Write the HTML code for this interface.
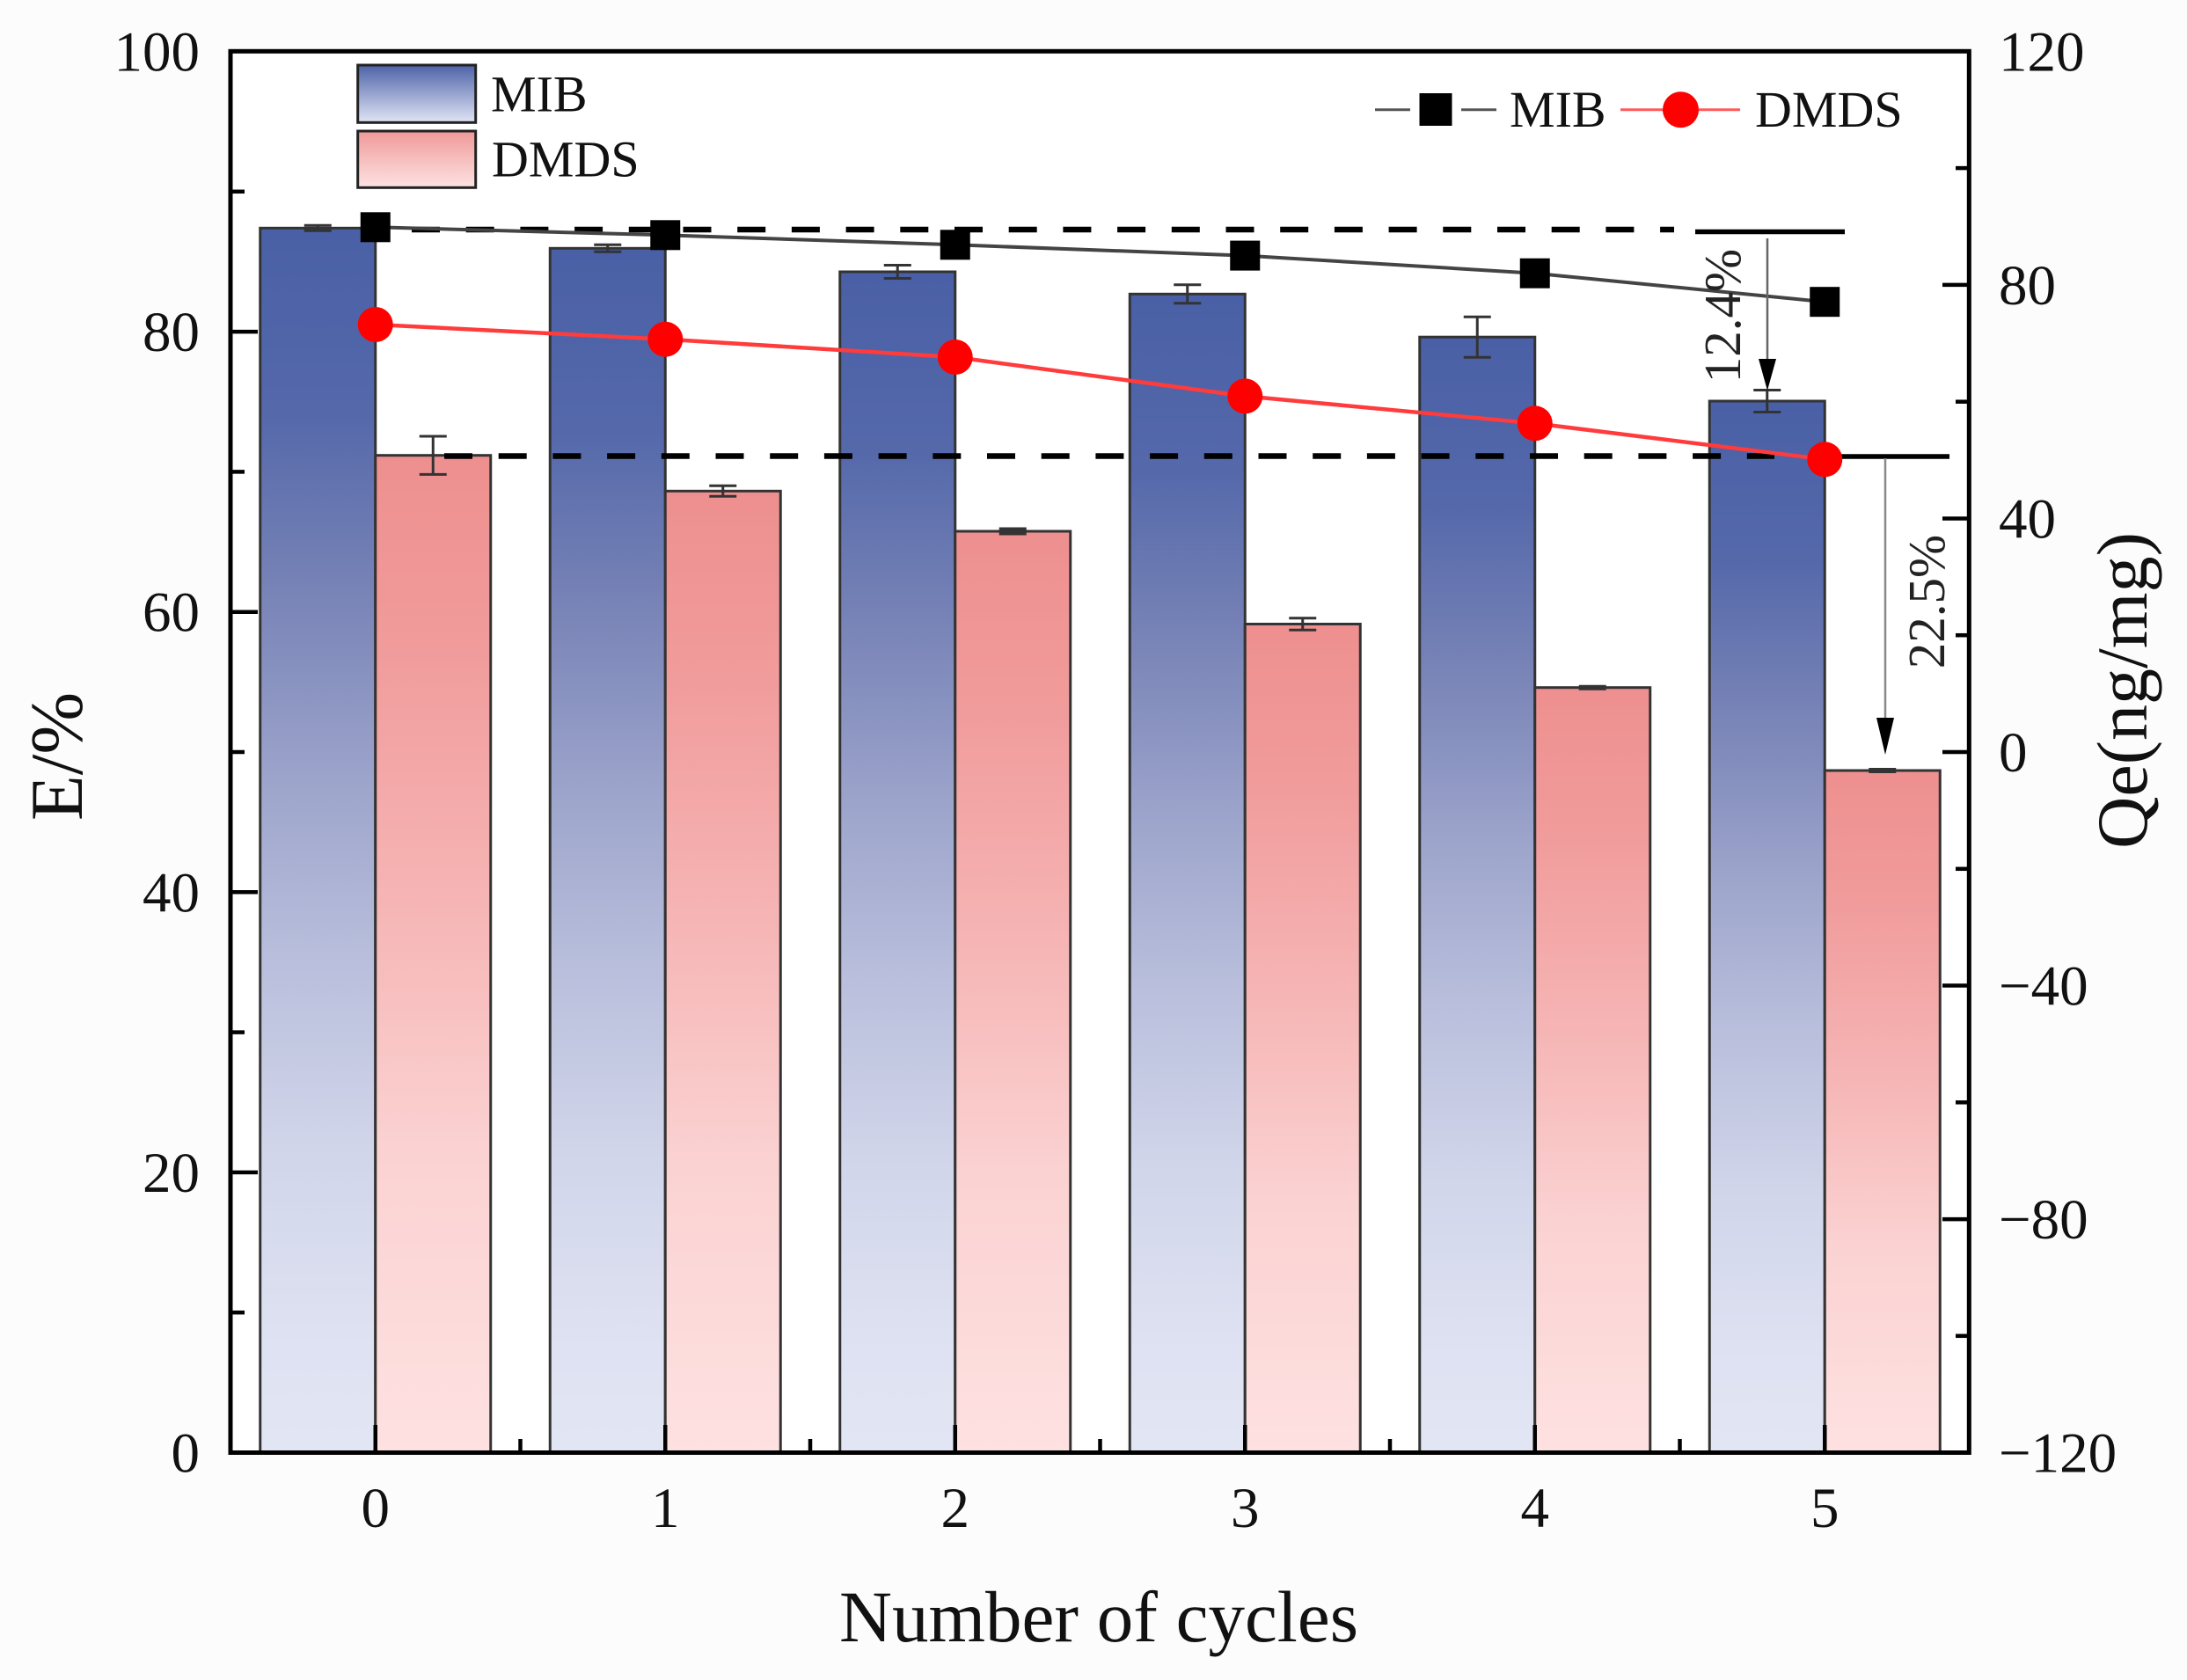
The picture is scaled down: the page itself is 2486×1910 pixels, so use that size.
<!DOCTYPE html>
<html>
<head>
<meta charset="utf-8">
<style>
html,body{margin:0;padding:0;background:#fcfcfc;}
svg{display:block;}
text{font-family:"Liberation Serif","Times New Roman",serif;fill:#111;}
</style>
</head>
<body>
<svg width="2486" height="1910" viewBox="0 0 2486 1910" xmlns="http://www.w3.org/2000/svg">
<defs>
<linearGradient id="gB" x1="0" y1="0" x2="0" y2="1">
<stop offset="0" stop-color="#4a60a6"/>
<stop offset="0.15" stop-color="#5468aa"/>
<stop offset="0.3" stop-color="#7984b7"/>
<stop offset="0.45" stop-color="#9ca4cb"/>
<stop offset="0.6" stop-color="#b9bfdc"/>
<stop offset="0.75" stop-color="#d1d5ea"/>
<stop offset="0.9" stop-color="#dde1f1"/>
<stop offset="1" stop-color="#e2e6f4"/>
</linearGradient>
<linearGradient id="gR" x1="0" y1="0" x2="0" y2="1">
<stop offset="0" stop-color="#ee8f8f"/>
<stop offset="0.2" stop-color="#f19c9c"/>
<stop offset="0.45" stop-color="#f6b5b5"/>
<stop offset="0.7" stop-color="#fbd2d2"/>
<stop offset="1" stop-color="#fee1e1"/>
</linearGradient>
<linearGradient id="lB" x1="0" y1="0" x2="0" y2="1">
<stop offset="0" stop-color="#4d63a8"/>
<stop offset="1" stop-color="#e0e4f4"/>
</linearGradient>
<linearGradient id="lR" x1="0" y1="0" x2="0" y2="1">
<stop offset="0" stop-color="#ef9999"/>
<stop offset="1" stop-color="#fee2e2"/>
</linearGradient>
</defs>

<!-- plot background -->
<rect x="262" y="58.3" width="1976.3" height="1593.2" fill="#ffffff"/>

<!-- bars MIB -->
<g stroke="#333" stroke-width="3" fill="url(#gB)">
<rect x="295.75" y="259.3" width="131" height="1392.2"/>
<rect x="625.25" y="282.3" width="131" height="1369.2"/>
<rect x="954.75" y="309" width="131" height="1342.5"/>
<rect x="1284.25" y="334.3" width="131" height="1317.2"/>
<rect x="1613.75" y="383.2" width="131" height="1268.3"/>
<rect x="1943.25" y="456" width="131" height="1195.5"/>
</g>
<!-- bars DMDS -->
<g stroke="#333" stroke-width="3" fill="url(#gR)">
<rect x="426.75" y="517.7" width="131" height="1133.8"/>
<rect x="756.25" y="558.3" width="131" height="1093.2"/>
<rect x="1085.75" y="604" width="131" height="1047.5"/>
<rect x="1415.25" y="709.5" width="131" height="942"/>
<rect x="1744.75" y="781.7" width="131" height="869.8"/>
<rect x="2074.25" y="876" width="131" height="775.5"/>
</g>

<!-- error bars -->
<g stroke="#333" stroke-width="3" fill="none">
<path d="M361.25 256.3V262.3M345.75 256.3H376.75M345.75 262.3H376.75"/>
<path d="M690.75 278.3V286.3M675.25 278.3H706.25M675.25 286.3H706.25"/>
<path d="M1020.25 301.5V316.5M1004.75 301.5H1035.75M1004.75 316.5H1035.75"/>
<path d="M1349.75 323.8V344.8M1334.25 323.8H1365.25M1334.25 344.8H1365.25"/>
<path d="M1679.25 360.2V406.2M1663.75 360.2H1694.75M1663.75 406.2H1694.75"/>
<path d="M2008.75 443.5V468.5M1993.25 443.5H2024.25M1993.25 468.5H2024.25"/>
<path d="M492.25 496V539.4M476.75 496H507.75M476.75 539.4H507.75"/>
<path d="M821.75 552.3V564.3M806.25 552.3H837.25M806.25 564.3H837.25"/>
<path d="M1151.25 601V607M1135.75 601H1166.75M1135.75 607H1166.75"/>
<path d="M1480.75 702.8V716.2M1465.25 702.8H1496.25M1465.25 716.2H1496.25"/>
<path d="M1810.25 780.2V783.2M1794.75 780.2H1825.75M1794.75 783.2H1825.75"/>
<path d="M2139.75 874.5V877.5M2124.25 874.5H2155.25M2124.25 877.5H2155.25"/>
</g>

<!-- dashed reference lines -->
<line x1="468" y1="261" x2="1903" y2="261" stroke="#000" stroke-width="6.5" stroke-dasharray="32 29.7"/>
<line x1="505" y1="518.5" x2="2017" y2="518.5" stroke="#000" stroke-width="6.5" stroke-dasharray="32 29.7"/>

<!-- MIB line -->
<polyline points="426.75,258.3 756.25,267.3 1085.75,278.3 1415.25,290.6 1744.75,310.7 2074.25,343.2" fill="none" stroke="#444" stroke-width="4"/>
<!-- DMDS line -->
<polyline points="426.75,369 756.25,385.7 1085.75,406 1415.25,450.4 1744.75,481.3 2074.25,522.3" fill="none" stroke="#ff3b3b" stroke-width="4.5"/>

<!-- solid reference lines -->
<line x1="1927" y1="263.5" x2="2097" y2="263.5" stroke="#000" stroke-width="5.5"/>
<line x1="2080" y1="519" x2="2216" y2="519" stroke="#000" stroke-width="5.5"/>

<!-- markers -->
<g fill="#000">
<rect x="409.75" y="241.3" width="34" height="34"/>
<rect x="739.25" y="250.3" width="34" height="34"/>
<rect x="1068.75" y="261.3" width="34" height="34"/>
<rect x="1398.25" y="273.6" width="34" height="34"/>
<rect x="1727.75" y="293.7" width="34" height="34"/>
<rect x="2057.25" y="326.2" width="34" height="34"/>
</g>
<g fill="#ff0000">
<circle cx="426.75" cy="369" r="20"/>
<circle cx="756.25" cy="385.7" r="20"/>
<circle cx="1085.75" cy="406" r="20"/>
<circle cx="1415.25" cy="450.4" r="20"/>
<circle cx="1744.75" cy="481.3" r="20"/>
<circle cx="2074.25" cy="522.3" r="20"/>
</g>

<!-- arrows -->
<line x1="2009" y1="271" x2="2009" y2="412" stroke="#666" stroke-width="2.5"/>
<polygon points="1999,408 2019,408 2009,444" fill="#000"/>
<line x1="2143" y1="521" x2="2143" y2="820" stroke="#888" stroke-width="2.5"/>
<polygon points="2133,816 2153,816 2143,858" fill="#000"/>

<text transform="translate(1978,359) rotate(-90)" text-anchor="middle" font-size="59" style="fill:#222">12.4%</text>
<text transform="translate(2210,684) rotate(-90)" text-anchor="middle" font-size="59" style="fill:#222">22.5%</text>

<!-- frame -->
<rect x="262" y="58.3" width="1976.3" height="1593.2" fill="none" stroke="#000" stroke-width="5"/>

<!-- left ticks -->
<g stroke="#000" stroke-width="4.5">
<line x1="262" y1="1651.5" x2="293" y2="1651.5"/>
<line x1="262" y1="1332.9" x2="293" y2="1332.9"/>
<line x1="262" y1="1014.3" x2="293" y2="1014.3"/>
<line x1="262" y1="695.7" x2="293" y2="695.7"/>
<line x1="262" y1="377.1" x2="293" y2="377.1"/>
<line x1="262" y1="1492.2" x2="278" y2="1492.2"/>
<line x1="262" y1="1173.6" x2="278" y2="1173.6"/>
<line x1="262" y1="855" x2="278" y2="855"/>
<line x1="262" y1="536.4" x2="278" y2="536.4"/>
<line x1="262" y1="217.8" x2="278" y2="217.8"/>
</g>
<!-- right ticks -->
<g stroke="#000" stroke-width="4.5">
<line x1="2238" y1="1651.6" x2="2208" y2="1651.6"/>
<line x1="2238" y1="1386.1" x2="2208" y2="1386.1"/>
<line x1="2238" y1="1120.5" x2="2208" y2="1120.5"/>
<line x1="2238" y1="855" x2="2208" y2="855"/>
<line x1="2238" y1="589.5" x2="2208" y2="589.5"/>
<line x1="2238" y1="323.9" x2="2208" y2="323.9"/>
<line x1="2238" y1="1518.8" x2="2223" y2="1518.8"/>
<line x1="2238" y1="1253.3" x2="2223" y2="1253.3"/>
<line x1="2238" y1="987.8" x2="2223" y2="987.8"/>
<line x1="2238" y1="722.2" x2="2223" y2="722.2"/>
<line x1="2238" y1="456.7" x2="2223" y2="456.7"/>
<line x1="2238" y1="191.1" x2="2223" y2="191.1"/>
</g>
<!-- bottom ticks -->
<g stroke="#000" stroke-width="4.5">
<line x1="426.75" y1="1651.5" x2="426.75" y2="1620"/>
<line x1="756.25" y1="1651.5" x2="756.25" y2="1620"/>
<line x1="1085.75" y1="1651.5" x2="1085.75" y2="1620"/>
<line x1="1415.25" y1="1651.5" x2="1415.25" y2="1620"/>
<line x1="1744.75" y1="1651.5" x2="1744.75" y2="1620"/>
<line x1="2074.25" y1="1651.5" x2="2074.25" y2="1620"/>
<line x1="591.5" y1="1651.5" x2="591.5" y2="1636"/>
<line x1="921" y1="1651.5" x2="921" y2="1636"/>
<line x1="1250.5" y1="1651.5" x2="1250.5" y2="1636"/>
<line x1="1580" y1="1651.5" x2="1580" y2="1636"/>
<line x1="1909.5" y1="1651.5" x2="1909.5" y2="1636"/>
</g>

<!-- left tick labels -->
<g font-size="65" text-anchor="end">
<text x="227" y="1673.5">0</text>
<text x="227" y="1354.9">20</text>
<text x="227" y="1036.3">40</text>
<text x="227" y="717.7">60</text>
<text x="227" y="399.1">80</text>
<text x="227" y="80.3">100</text>
</g>
<!-- right tick labels -->
<g font-size="65" text-anchor="start">
<text x="2272" y="1673.6">−120</text>
<text x="2272" y="1408.1">−80</text>
<text x="2272" y="1142.5">−40</text>
<text x="2272" y="877">0</text>
<text x="2272" y="611.5">40</text>
<text x="2272" y="345.9">80</text>
<text x="2272" y="80.4">120</text>
</g>
<!-- x tick labels -->
<g font-size="65" text-anchor="middle">
<text x="426.75" y="1736">0</text>
<text x="756.25" y="1736">1</text>
<text x="1085.75" y="1736">2</text>
<text x="1415.25" y="1736">3</text>
<text x="1744.75" y="1736">4</text>
<text x="2074.25" y="1736">5</text>
</g>

<!-- axis titles -->
<text x="1249" y="1866" font-size="83" text-anchor="middle">Number of cycles</text>
<text transform="translate(93,860) rotate(-90)" font-size="85" text-anchor="middle">E/%</text>
<text transform="translate(2440,785) rotate(-90)" font-size="82" text-anchor="middle">Qe(ng/mg)</text>

<!-- legend 1 (bars) -->
<rect x="406.7" y="74" width="134" height="65.3" fill="url(#lB)" stroke="#222" stroke-width="3"/>
<rect x="406.7" y="149" width="134" height="64.3" fill="url(#lR)" stroke="#222" stroke-width="3"/>
<text x="558" y="126.5" font-size="58">MIB</text>
<text x="559" y="200.7" font-size="58">DMDS</text>

<!-- legend 2 (lines) -->
<g stroke="#555" stroke-width="3">
<line x1="1563" y1="124.7" x2="1603" y2="124.7"/>
<line x1="1661" y1="124.7" x2="1701" y2="124.7"/>
</g>
<rect x="1613.5" y="106" width="37" height="37" fill="#000"/>
<text x="1716" y="144" font-size="58">MIB</text>
<g stroke="#ff5a5a" stroke-width="3">
<line x1="1842" y1="124.7" x2="1890" y2="124.7"/>
<line x1="1931" y1="124.7" x2="1978" y2="124.7"/>
</g>
<circle cx="1910.5" cy="124.7" r="20.5" fill="#ff0000"/>
<text x="1995" y="144" font-size="58">DMDS</text>
</svg>
</body>
</html>
